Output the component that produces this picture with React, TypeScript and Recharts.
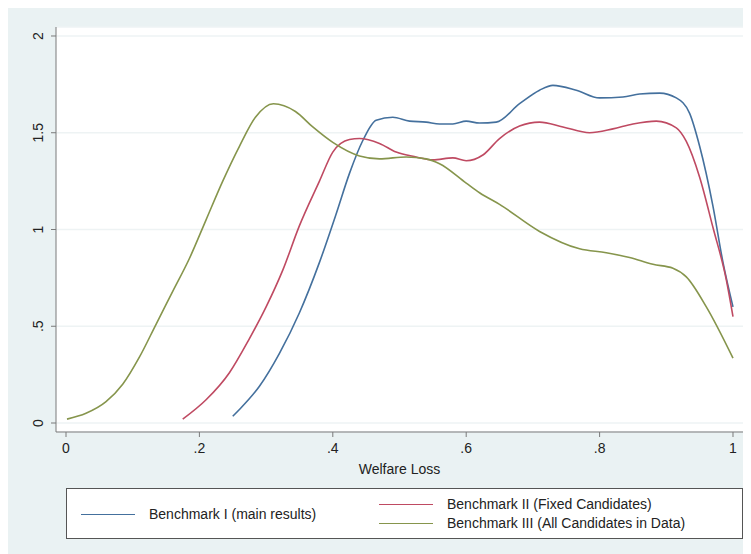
import { LineChart, Line, XAxis, YAxis, CartesianGrid } from "recharts";

// Benchmark I (main results)
const benchOneX = [0.25, 0.26, 0.29, 0.32, 0.35, 0.38, 0.405, 0.425, 0.445, 0.465, 0.49, 0.515, 0.54, 0.56, 0.58, 0.6, 0.62, 0.645, 0.68, 0.71, 0.73, 0.765, 0.8, 0.835, 0.86, 0.89, 0.915, 0.935, 0.95, 0.97, 0.985, 1.0];
const benchOneY = [0.035, 0.07, 0.19, 0.36, 0.57, 0.83, 1.08, 1.29, 1.46, 1.565, 1.58, 1.56, 1.555, 1.545, 1.545, 1.56, 1.55, 1.555, 1.65, 1.72, 1.745, 1.72, 1.68, 1.685, 1.7, 1.705, 1.68, 1.6, 1.43, 1.12, 0.83, 0.6];

// Benchmark II (Fixed Candidates)
const benchTwoX = [0.175, 0.21, 0.245, 0.274, 0.3, 0.325, 0.35, 0.38, 0.4, 0.425, 0.44, 0.47, 0.495, 0.525, 0.55, 0.58, 0.6, 0.625, 0.65, 0.68, 0.71, 0.745, 0.785, 0.82, 0.85, 0.885, 0.915, 0.93, 0.95, 0.97, 0.99, 1.0];
const benchTwoY = [0.02, 0.12, 0.26, 0.43, 0.6, 0.79, 1.02, 1.25, 1.4, 1.465, 1.47, 1.445, 1.4, 1.375, 1.36, 1.37, 1.355, 1.385, 1.47, 1.535, 1.555, 1.53, 1.5, 1.52, 1.545, 1.56, 1.525, 1.455, 1.27, 1.01, 0.74, 0.55];

// Benchmark III (All Candidates in Data)
const benchThreeX = [0.0015, 0.03, 0.06, 0.085, 0.11, 0.135, 0.16, 0.185, 0.21, 0.235, 0.26, 0.284, 0.311, 0.344, 0.37, 0.4, 0.44, 0.47, 0.51, 0.54, 0.56, 0.6, 0.62, 0.65, 0.71, 0.77, 0.81, 0.845, 0.88, 0.91, 0.93, 0.96, 1.0];
const benchThreeY = [0.02, 0.05, 0.11, 0.2, 0.34, 0.51, 0.68, 0.85, 1.05, 1.25, 1.43, 1.58, 1.65, 1.61, 1.53, 1.45, 1.38, 1.365, 1.375, 1.365, 1.34, 1.24, 1.19, 1.13, 0.99, 0.9, 0.88, 0.855, 0.82, 0.8, 0.755, 0.6, 0.335];

const xTicks = [0, 0.2, 0.4, 0.6, 0.8, 1];
const yTicks = [0, 0.5, 1, 1.5, 2];

const zip = (xs: number[], ys: number[]) => xs.map((x, i) => ({ x, y: ys[i] }));

const series = [
  { name: "Benchmark I (main results)", color: "#44709d", data: zip(benchOneX, benchOneY) },
  { name: "Benchmark II (Fixed Candidates)", color: "#bf4a62", data: zip(benchTwoX, benchTwoY) },
  { name: "Benchmark III (All Candidates in Data)", color: "#86954c", data: zip(benchThreeX, benchThreeY) },
];

const FONT = '"Liberation Sans", Arial, Helvetica, sans-serif';

// stata style labels: 0, .2, .4 ...
const fmt = (v: number) => (v === 0 ? "0" : Number.isInteger(v) ? String(v) : String(v).replace(/^0/, ""));

const YTick = (props: any) => {
  const { x, y, payload } = props;
  return (
    <text
      x={x - 2}
      y={y}
      transform={`rotate(-90, ${x - 2}, ${y})`}
      textAnchor="middle"
      fontSize={14}
      fontFamily={FONT}
      fill="#222"
    >
      {fmt(payload.value)}
    </text>
  );
};

const LegendBox = () => {
  const row = (s: any, top: number, left: number) => (
    <div key={s.name} style={{ position: "absolute", top, left, display: "flex", alignItems: "center" }}>
      <div style={{ width: 54, height: 0, borderTop: `1.6px solid ${s.color}`, marginRight: 14 }} />
      <span style={{ fontSize: 14, fontFamily: FONT, color: "#222", whiteSpace: "nowrap", lineHeight: "16px" }}>{s.name}</span>
    </div>
  );
  return (
    <div style={{ position: "absolute", left: 58, top: 480, width: 675, height: 49, background: "#fff", border: "1.5px solid #555" }}>
      {row(series[0], 17, 14)}
      {row(series[1], 7, 312)}
      {row(series[2], 26, 312)}
    </div>
  );
};

export default function App() {
  return (
    <div style={{ position: "relative", width: 743, height: 546, background: "#eaf2f3" }}>
      <LineChart width={743} height={546} margin={{ top: 19, right: 8, bottom: 72, left: 18 }}>
        <CartesianGrid vertical={false} stroke="#eef3f4" strokeWidth={1.5} fill="#ffffff" />
        <XAxis
          type="number"
          dataKey="x"
          domain={[-0.015, 1.015]}
          ticks={xTicks}
          tickFormatter={fmt}
          allowDataOverflow
          stroke="#7a7a7a"
          tickSize={5}
          tickMargin={6}
          height={50}
          tick={{ fontSize: 14, fontFamily: FONT, fill: "#222" }}
          label={{ value: "Welfare Loss", position: "insideBottom", offset: 8, fontSize: 14, fontFamily: FONT, fill: "#222" }}
        />
        <YAxis
          type="number"
          domain={[-0.0465, 2.0465]}
          ticks={yTicks}
          allowDataOverflow
          stroke="#7a7a7a"
          tickSize={5}
          tickMargin={6}
          width={30}
          tick={<YTick />}
        />
        {series.map((s) => (
          <Line
            key={s.name}
            data={s.data}
            dataKey="y"
            name={s.name}
            type="monotone"
            stroke={s.color}
            strokeWidth={1.6}
            dot={false}
            isAnimationActive={false}
          />
        ))}
      </LineChart>
      <LegendBox />
    </div>
  );
}
